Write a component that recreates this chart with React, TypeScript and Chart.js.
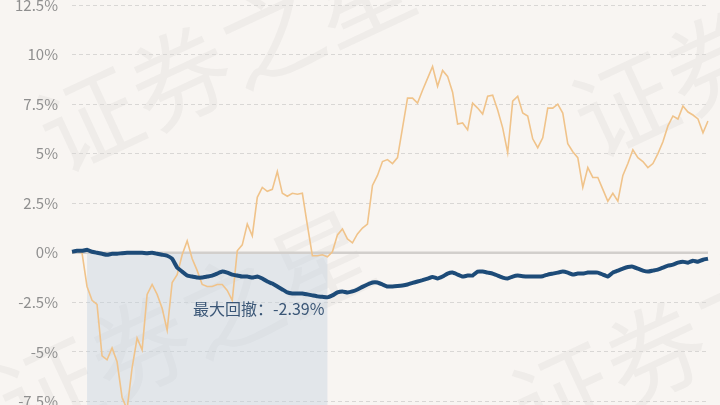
import React, { useEffect, useRef } from "react";
import { Chart, registerables } from "chart.js";

Chart.register(...registerables);

// Cumulative return of the fund (blue, %)
const fundReturn = [
  0.05, 0.1, 0.1, 0.15, 0.05, 0.0, -0.05, -0.1, -0.05, -0.05,
  -0.02, 0.0, 0.0, 0.0, 0.0, -0.02, 0.0, -0.05, -0.1, -0.15,
  -0.3, -0.75, -0.95, -1.15, -1.2, -1.25, -1.25, -1.2, -1.15, -1.05,
  -0.95, -1.0, -1.1, -1.15, -1.2, -1.2, -1.25, -1.2, -1.3, -1.45,
  -1.55, -1.7, -1.85, -2.0, -2.05, -2.05, -2.05, -2.1, -2.15, -2.2,
  -2.22, -2.25, -2.15, -2.0, -1.95, -2.0, -1.95, -1.85, -1.72, -1.6,
  -1.5, -1.5, -1.6, -1.7, -1.7, -1.68, -1.65, -1.6, -1.52, -1.45,
  -1.38, -1.3, -1.22, -1.3, -1.2, -1.05, -1.0, -1.1, -1.2, -1.15,
  -1.15, -0.95, -0.95, -1.0, -1.05, -1.15, -1.25, -1.3, -1.2, -1.15,
  -1.18, -1.2, -1.2, -1.2, -1.18, -1.1, -1.05, -1.0, -0.95, -1.0,
  -1.1, -1.05, -1.05, -1.0, -1.0, -1.0, -1.1, -1.2, -1.0, -0.9,
  -0.8, -0.72, -0.7, -0.8, -0.9, -0.95, -0.9, -0.85, -0.75, -0.65,
  -0.6, -0.5, -0.45, -0.5, -0.4, -0.45, -0.35, -0.3,
];

// Cumulative return of the comparison index (orange, %)
const indexReturn = [
  0, 0.1, 0.0, -1.7, -2.4, -2.6, -5.2, -5.4, -4.8, -5.5,
  -7.3, -7.9, -5.8, -4.3, -4.9, -2.1, -1.6, -2.1, -2.8, -3.9,
  -1.5, -1.1, -0.1, 0.6, -0.3, -0.9, -1.6, -1.7, -1.7, -1.6,
  -1.6, -1.9, -2.4, 0.1, 0.4, 1.45, 0.85, 2.8, 3.3, 3.1,
  3.2, 4.1, 3.0, 2.85, 3.0, 2.95, 3.0, 1.4, -0.15, -0.15,
  -0.1, -0.2, 0.05, 0.9, 1.2, 0.7, 0.5, 0.95, 1.25, 1.45,
  3.4, 3.9, 4.6, 4.7, 4.5, 4.8, 6.3, 7.8, 7.8, 7.55,
  8.2, 8.8, 9.4, 8.4, 9.2, 8.9, 8.1, 6.5, 6.55, 6.2,
  7.55, 7.3, 7.0, 7.9, 7.95, 7.2, 6.3, 5.05, 7.65, 7.9,
  7.05, 6.9, 5.75, 5.3, 5.8, 7.3, 7.3, 7.5, 7.05, 5.5,
  5.1, 4.8, 3.3, 4.3, 3.8, 3.8, 3.2, 2.6, 3.0, 2.6,
  3.9, 4.5, 5.2, 4.8, 4.6, 4.3, 4.5, 5.0, 5.6, 6.4,
  6.9, 6.75, 7.4, 7.1, 6.95, 6.75, 6.05, 6.65,
];

const dayLabels = fundReturn.map((_, i) => `${i + 1}`);

const yMin = -10;
const yMax = 12.5;
const yStep = 2.5;

const drawdownPeakIndex = 3;
const drawdownTroughIndex = 51;
const maxDrawdownValue = -2.39;
const maxDrawdownText = "最大回撤：-2.39%";

const watermarkText = "证券之星";

const BG = "#f8f5f2";
const CANVAS_TOP = -18;
const CANVAS_W = 720;
const CANVAS_H = 492;
const FONT = '"Noto Sans CJK SC", "Noto Sans", sans-serif';

const decorPlugin = {
  id: "decor",
  beforeDraw(chart: any) {
    const { ctx, width, height } = chart;
    ctx.save();
    ctx.fillStyle = BG;
    ctx.fillRect(0, 0, width, height);
    ctx.fillStyle = "rgba(110,110,110,0.06)";
    ctx.font = `400 100px ${FONT}`;
    ctx.textBaseline = "alphabetic";
    const spots = [
      [60, 175],
      [595, 160],
      [20, 445],
      [535, 450],
    ];
    for (const [x, y] of spots) {
      ctx.save();
      ctx.translate(x, y - CANVAS_TOP);
      ctx.rotate((-25 * Math.PI) / 180);
      ctx.fillText(watermarkText, 0, 0);
      ctx.restore();
    }
    ctx.restore();
  },
  beforeDatasetsDraw(chart: any) {
    const { ctx, chartArea } = chart;
    const xs = chart.scales.x;
    const ys = chart.scales.y;
    const x0 = xs.getPixelForValue(drawdownPeakIndex);
    const x1 = xs.getPixelForValue(drawdownTroughIndex);
    const y0 = ys.getPixelForValue(0);
    ctx.save();
    ctx.fillStyle = "rgba(196,210,224,0.42)";
    ctx.fillRect(x0, y0, x1 - x0, chartArea.bottom - y0);
    ctx.strokeStyle = "#d2cfcc";
    ctx.lineWidth = 2.5;
    ctx.beginPath();
    ctx.moveTo(chartArea.left, y0);
    ctx.lineTo(chartArea.right, y0);
    ctx.stroke();
    ctx.restore();
  },
  afterDatasetsDraw(chart: any) {
    const { ctx } = chart;
    const xs = chart.scales.x;
    const ys = chart.scales.y;
    const x1 = xs.getPixelForValue(drawdownTroughIndex);
    const y = ys.getPixelForValue(maxDrawdownValue);
    ctx.save();
    ctx.fillStyle = "#3a5676";
    ctx.font = `400 16px ${FONT}`;
    ctx.textAlign = "right";
    ctx.textBaseline = "middle";
    ctx.fillText(maxDrawdownText, x1 - 3, y + 9);
    ctx.restore();
  },
};

export default function App() {
  const ref = useRef<HTMLCanvasElement | null>(null);

  useEffect(() => {
    document.body.style.margin = "0";
    document.body.style.background = BG;
    const canvas = ref.current;
    if (!canvas) return;
    const chart = new Chart(canvas, {
      type: "line",
      data: {
        labels: dayLabels,
        datasets: [
          {
            label: "基金",
            data: fundReturn,
            borderColor: "#1d4b78",
            borderWidth: 4,
            pointRadius: 0,
            tension: 0.1,
            fill: false,
          },
          {
            label: "指数",
            data: indexReturn,
            borderColor: "#f0c38a",
            borderWidth: 1.6,
            pointRadius: 0,
            tension: 0,
            fill: false,
          },
        ],
      },
      options: {
        animation: false,
        responsive: false,
        devicePixelRatio: 1,
        layout: { padding: { left: 0, right: 12, top: 20, bottom: 20 } },
        plugins: {
          legend: { display: false },
          tooltip: { enabled: false },
        },
        scales: {
          x: {
            display: false,
            offset: false,
          },
          y: {
            min: yMin,
            max: yMax,
            afterFit(scale: any) {
              scale.width = 72;
            },
            ticks: {
              stepSize: yStep,
              padding: 14,
              color: "#8f8f8f",
              font: { family: FONT, size: 15 },
              callback: (v: any) => `${v}%`,
            },
            grid: {
              drawTicks: false,
              color: (c: any) => (c.tick && c.tick.value === 0 ? "rgba(0,0,0,0)" : "#d9d7d5"),
              lineWidth: 1,
            },
            border: { display: false, dash: [4, 3] },
          },
        },
      },
      plugins: [decorPlugin],
    });
    return () => chart.destroy();
  }, []);

  return (
    <div
      style={{
        position: "fixed",
        left: 0,
        top: 0,
        width: 720,
        height: 405,
        overflow: "hidden",
        background: BG,
      }}
    >
      <canvas
        ref={ref}
        width={CANVAS_W}
        height={CANVAS_H}
        style={{ position: "absolute", left: 0, top: CANVAS_TOP, width: CANVAS_W, height: CANVAS_H }}
      />
    </div>
  );
}
